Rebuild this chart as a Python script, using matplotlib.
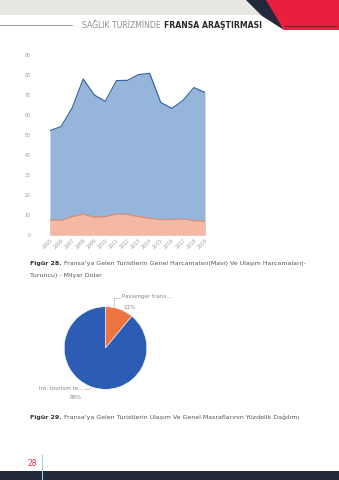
import numpy as np
import matplotlib
matplotlib.use("Agg")
import matplotlib.pyplot as plt
from matplotlib.patches import Polygon, Rectangle

# data
years = list(range(2005, 2020))
genel = [52.2, 54.2, 63.5, 78.0, 70.0, 66.8, 77.2, 77.3, 80.2, 80.8, 66.3, 63.3, 67.2, 73.7, 71.3]
ulasim = [7.6, 7.4, 9.2, 10.5, 8.9, 9.2, 10.5, 10.3, 9.2, 8.4, 7.7, 7.7, 8.0, 7.2, 7.0]
yticks = [0, 10, 20, 30, 40, 50, 60, 70, 80, 90]

pie_labels = ["Passenger trans...", "Int. tourism re..."]
pie_vals = [11, 89]

header_light = "SAĞLIK TURİZMİNDE"
header_bold = "FRANSA ARAŞTIRMASI"
cap28a = "Fransa'ya Gelen Turistlerin Genel Harcamaları(Mavi) Ve Ulaşım Harcamaları(-"
cap28b = "Turuncu) - Milyar Dolar"
cap29 = "Fransa'ya Gelen Turistlerin Ulaşım Ve Genel Masraflarının Yüzdelik Dağılımı"

W, H = 339, 480
fig = plt.figure(figsize=(W / 100, H / 100), dpi=100)


def box(x, y, w, h):
    # pixel box (top-left origin) -> figure fraction
    return [x / W, 1 - (y + h) / H, w / W, h / H]


# page decorations
bg = fig.add_axes([0, 0, 1, 1], zorder=0)
bg.set_xlim(0, W)
bg.set_ylim(H, 0)
bg.axis("off")
bg.add_patch(Rectangle((0, 0), W, 15, color="#e7e7e4", lw=0))
bg.add_patch(Polygon([(246, 0), (268, 0), (284, 30), (262, 16)], color="#23283a", lw=0))
bg.add_patch(Polygon([(266, 0), (W, 0), (W, 30), (284, 30)], color="#e8203e", lw=0))
bg.plot([0, 72], [24.5, 24.5], color="#8a8a8a", lw=0.6)
bg.plot([284, 337], [25.5, 25.5], color="#8c1020", lw=0.6)
bg.text(161, 25, header_light, ha="right", va="center", fontsize=5.6, color="#8f8f8f")
bg.text(164, 25, header_bold, ha="left", va="center", fontsize=5.6, color="#2a2a2a", fontweight="bold")

fs = 4.5
f28 = bg.text(30, 264, "Figür 28.", ha="left", va="center", fontsize=fs, color="#333333", fontweight="bold")
bg.annotate(cap28a, xy=(1, 0.5), xycoords=f28, xytext=(2, 0), textcoords="offset points",
            ha="left", va="center", fontsize=fs, color="#555555")
bg.text(30, 275, cap28b, ha="left", va="center", fontsize=fs, color="#555555")
f29 = bg.text(30, 417, "Figür 29.", ha="left", va="center", fontsize=fs, color="#333333", fontweight="bold")
bg.annotate(cap29, xy=(1, 0.5), xycoords=f29, xytext=(2, 0), textcoords="offset points",
            ha="left", va="center", fontsize=fs, color="#555555")

bg.add_patch(Rectangle((0, 471), W, 9, color="#22273a", lw=0))
bg.plot([42, 42], [455, 480], color="#9fd3ea", lw=0.8)
bg.text(32, 463, "28", ha="center", va="center", fontsize=5.5, color="#d9344b")

# area chart
ax = fig.add_axes(box(50, 55, 155, 180), zorder=1)
ax.fill_between(years, 0, genel, color="#95b6da", lw=0)
ax.plot(years, genel, color="#3a67a3", lw=0.9)
ax.fill_between(years, 0, ulasim, color="#f5b9a3", lw=0)
ax.plot(years, ulasim, color="#df8a70", lw=0.8)
ax.set_xlim(2005, 2019)
ax.set_ylim(0, 90)
ax.set_yticks(yticks)
ax.set_xticks(years)
ax.set_xticklabels([str(y) for y in years], rotation=45, ha="right", rotation_mode="anchor")
ax.tick_params(axis="both", length=0, labelsize=3.4, labelcolor="#9a9a9a")
ax.tick_params(axis="y", pad=14)
ax.tick_params(axis="x", pad=2)
for s in ax.spines.values():
    s.set_visible(False)
ax.patch.set_alpha(0)

# pie chart
pax = fig.add_axes(box(64.2, 306.7, 82.6, 82.6), zorder=1)
pax.pie(pie_vals, colors=["#ee7442", "#2c5cb3"], startangle=90, counterclock=False,
        radius=1, wedgeprops=dict(linewidth=0.4, edgecolor="white"))
pax.set_xlim(-1, 1)
pax.set_ylim(-1, 1)
pax.set_aspect("equal")
pax.axis("off")
pax.plot([0.2, 0.2, 0.35], [1.0, 1.2, 1.2], color="#aaaaaa", lw=0.4, clip_on=False)
pax.text(0.4, 1.25, pie_labels[0], ha="left", va="center", fontsize=4.0, color="#888888")
pax.text(0.59, 0.97, f"{pie_vals[0]}%", ha="center", va="center", fontsize=4.0, color="#888888")
pax.plot([-0.5, -0.38, -0.33], [-1.0, -1.0, -0.93], color="#aaaaaa", lw=0.4, clip_on=False)
pax.text(-0.53, -0.99, pie_labels[1], ha="right", va="center", fontsize=4.0, color="#888888")
pax.text(-0.73, -1.21, f"{pie_vals[1]}%", ha="center", va="center", fontsize=4.0, color="#888888")

fig.savefig("out.png", dpi=100)
